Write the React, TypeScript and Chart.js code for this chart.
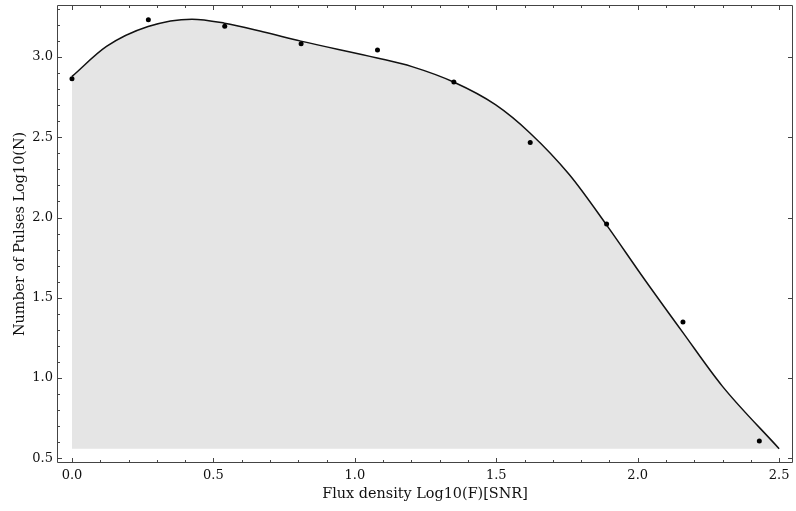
import { useEffect, useRef } from "react";
import { Chart, registerables } from "chart.js";

Chart.register(...registerables);

// Observed data (scatter points)
const fluxX = [0, 0.27, 0.54, 0.81, 1.08, 1.35, 1.62, 1.89, 2.16, 2.43];
const pulsesY = [2.865, 3.232, 3.192, 3.082, 3.044, 2.844, 2.467, 1.96, 1.349, 0.608];

// Fitted curve
const fitX = [0, 0.122, 0.269, 0.424, 0.539, 0.678, 0.809, 1.079, 1.202, 1.349, 1.497, 1.619, 1.758, 1.889, 2.02, 2.16, 2.299, 2.5];
const fitY = [2.879, 3.066, 3.19, 3.236, 3.211, 3.156, 3.099, 2.994, 2.94, 2.844, 2.703, 2.527, 2.268, 1.956, 1.625, 1.283, 0.95, 0.56];
const fillBase = 0.56;

const xTicks = [0, 0.5, 1.0, 1.5, 2.0, 2.5];
const yTicks = [0.5, 1.0, 1.5, 2.0, 2.5, 3.0];
const xMinor = [0.1, 0.2, 0.3, 0.4, 0.6, 0.7, 0.8, 0.9, 1.1, 1.2, 1.3, 1.4, 1.6, 1.7, 1.8, 1.9, 2.1, 2.2, 2.3, 2.4];
const yMinor = [0.6, 0.7, 0.8, 0.9, 1.1, 1.2, 1.3, 1.4, 1.6, 1.7, 1.8, 1.9, 2.1, 2.2, 2.3, 2.4, 2.6, 2.7, 2.8, 2.9, 3.1, 3.2, 3.3];

const FONT = "'DejaVu Serif', serif";

const framePlugin = {
  id: "frameTicks",
  afterDraw(chart: any) {
    const { ctx, chartArea } = chart;
    const { left, right, top, bottom } = chartArea;
    const xs = chart.scales.x;
    const ys = chart.scales.y;
    ctx.save();
    ctx.strokeStyle = "#444";
    ctx.lineWidth = 1;
    ctx.beginPath();
    ctx.rect(left + 0.5, top + 0.5, right - left - 1, bottom - top - 1);
    ctx.stroke();
    ctx.beginPath();
    const maj = 5;
    const min = 3;
    xTicks.forEach((v) => {
      const p = Math.round(xs.getPixelForValue(v)) + 0.5;
      ctx.moveTo(p, bottom);
      ctx.lineTo(p, bottom - maj);
      ctx.moveTo(p, top);
      ctx.lineTo(p, top + maj);
    });
    xMinor.forEach((v) => {
      const p = Math.round(xs.getPixelForValue(v)) + 0.5;
      ctx.moveTo(p, bottom);
      ctx.lineTo(p, bottom - min);
      ctx.moveTo(p, top);
      ctx.lineTo(p, top + min);
    });
    yTicks.forEach((v) => {
      const p = Math.round(ys.getPixelForValue(v)) + 0.5;
      ctx.moveTo(left, p);
      ctx.lineTo(left + maj, p);
      ctx.moveTo(right, p);
      ctx.lineTo(right - maj, p);
    });
    yMinor.forEach((v) => {
      const p = Math.round(ys.getPixelForValue(v)) + 0.5;
      ctx.moveTo(left, p);
      ctx.lineTo(left + min, p);
    });
    ctx.stroke();
    ctx.restore();
  },
};

export default function App() {
  const ref = useRef<HTMLCanvasElement | null>(null);

  useEffect(() => {
    if (!ref.current) return;
    const chart = new Chart(ref.current, {
      type: "scatter",
      data: {
        datasets: [
          {
            label: "fit",
            data: fitX.map((x, i) => ({ x, y: fitY[i] })),
            showLine: true,
            borderColor: "#111",
            borderWidth: 1.5,
            pointRadius: 0,
            cubicInterpolationMode: "monotone",
            fill: { value: fillBase },
            backgroundColor: "#e5e5e5",
            order: 2,
          },
          {
            label: "data",
            data: fluxX.map((x, i) => ({ x, y: pulsesY[i] })),
            showLine: false,
            pointRadius: 2.5,
            pointBackgroundColor: "#000",
            pointBorderWidth: 0,
            order: 1,
          },
        ],
      },
      options: {
        responsive: false,
        animation: false,
        devicePixelRatio: 1,
        layout: { padding: { top: 5, right: 0, bottom: 0, left: 0 } },
        plugins: {
          legend: { display: false },
          tooltip: { enabled: false },
          filler: { propagate: false },
        },
        scales: {
          x: {
            type: "linear",
            min: -0.053,
            max: 2.549,
            grid: { display: false, drawTicks: false },
            border: { display: false },
            afterBuildTicks: (s: any) => {
              s.ticks = xTicks.map((v) => ({ value: v }));
            },
            afterFit: (s: any) => {
              s.height = 48;
              s.paddingLeft = 0;
              s.paddingRight = 0;
            },
            ticks: {
              padding: 5,
              color: "#111",
              font: { family: FONT, size: 13 },
              callback: (v: any) => Number(v).toFixed(1),
            },
            title: {
              display: true,
              text: "Flux density Log10(F)[SNR]",
              color: "#111",
              font: { family: FONT, size: 14.4 },
              padding: { top: 0, bottom: 8 },
            },
          },
          y: {
            type: "linear",
            min: 0.471,
            max: 3.324,
            grid: { display: false, drawTicks: false },
            border: { display: false },
            afterBuildTicks: (s: any) => {
              s.ticks = yTicks.map((v) => ({ value: v }));
            },
            afterFit: (s: any) => {
              s.width = 57;
              s.paddingTop = 0;
              s.paddingBottom = 0;
            },
            ticks: {
              padding: 4,
              color: "#111",
              font: { family: FONT, size: 13 },
              callback: (v: any) => Number(v).toFixed(1),
            },
            title: {
              display: true,
              text: "Number of Pulses Log10(N)",
              color: "#111",
              font: { family: FONT, size: 14.4 },
              padding: { top: 12, bottom: 0 },
            },
          },
        },
      },
      plugins: [framePlugin],
    });
    return () => chart.destroy();
  }, []);

  return (
    <canvas
      ref={ref}
      width={797}
      height={511}
      style={{ position: "fixed", left: 0, top: 0, width: 797, height: 511 }}
    />
  );
}
